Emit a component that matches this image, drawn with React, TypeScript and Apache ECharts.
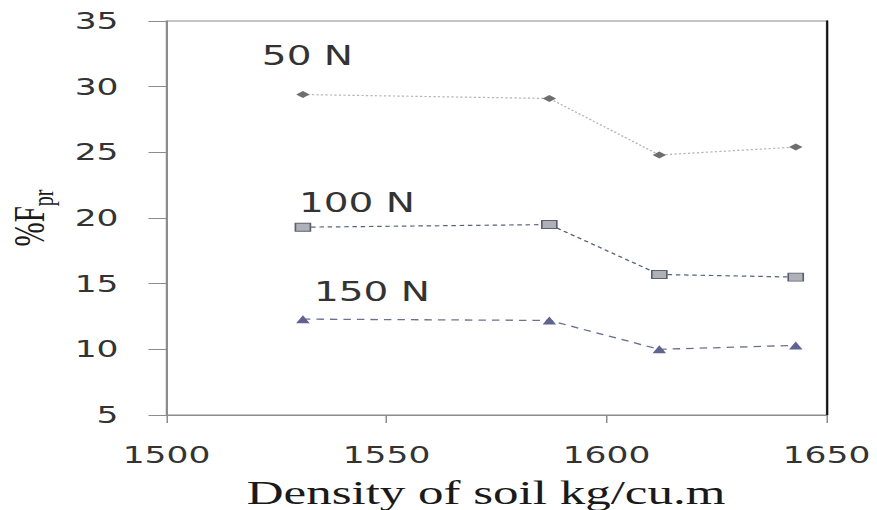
import React, { useEffect, useRef } from "react";
import * as echarts from "echarts";

// Data
const densities = [1531, 1587, 1612, 1643];
const fpr50 = [29.4, 29.1, 24.8, 25.4];
const fpr100 = [19.3, 19.5, 15.7, 15.5];
const fpr150 = [12.3, 12.2, 10.0, 10.3];
const seriesNames = ["50 N", "100 N", "150 N"];
const xRange = [1500, 1650];
const yRange = [5, 35];

const STRETCH = 1.5;
const W = 877;
const H = 510;

export default function App() {
  const ref = useRef<HTMLDivElement>(null);
  useEffect(() => {
    if (!ref.current) return;
    const chart = echarts.init(ref.current, null, { renderer: "svg" });
    const pts = (ys: number[]) => densities.map((x, i) => [x, ys[i]]);
    const lbl = (name: string, off: number[]) => ({
      show: true,
      position: "top",
      offset: off,
      fontFamily: "DejaVu Sans",
      fontSize: 26,
      color: "#333",
      formatter: (p: any) => (p.dataIndex === 0 ? name : ""),
    });
    chart.setOption({
      animation: false,
      backgroundColor: "#fff",
      grid: {
        left: 111,
        right: W / STRETCH - 550.7,
        top: 21,
        bottom: 95,
        containLabel: false,
        outerBoundsMode: "none",
        show: true,
        borderColor: "#8c8c8c",
        borderWidth: 1,
      },
      xAxis: {
        type: "value",
        min: xRange[0],
        max: xRange[1],
        interval: 50,
        name: "Density of soil kg/cu.m",
        nameLocation: "middle",
        nameGap: 60,
        nameTextStyle: {
          fontFamily: "Liberation Serif",
          fontSize: 34,
          color: "#1a1a1a",
          padding: [0, 14, 0, 0],
        },
        axisLine: { show: true, onZero: false, lineStyle: { color: "#8c8c8c", width: 1 } },
        axisTick: { show: true, length: 8, lineStyle: { color: "#8c8c8c" } },
        axisLabel: {
          fontFamily: "DejaVu Sans",
          fontSize: 23,
          color: "#333",
          margin: 29,
          formatter: (v: number) => String(v),
        },
        splitLine: { show: false },
      },
      yAxis: [
        {
          type: "value",
          min: yRange[0],
          max: yRange[1],
          interval: 5,
          name: "{a|%F}{b|pr}",
          nameLocation: "middle",
          nameGap: 44,
          nameTextStyle: {
            rich: {
              a: {
                fontFamily: "Liberation Serif",
                fontSize: 29,
                lineHeight: 34,
                verticalAlign: "top",
                color: "#1a1a1a",
              },
              b: {
                fontFamily: "Liberation Serif",
                fontSize: 20,
                lineHeight: 20,
                verticalAlign: "bottom",
                color: "#1a1a1a",
              },
            },
          },
          axisLine: { show: true, lineStyle: { color: "#8c8c8c", width: 1 } },
          axisTick: { show: true, length: 12, lineStyle: { color: "#8c8c8c" } },
          axisLabel: {
            fontFamily: "DejaVu Sans",
            fontSize: 23,
            color: "#333",
            margin: 32,
            formatter: (v: number) => String(v),
          },
          splitLine: { show: false },
        },
        {
          type: "value",
          position: "right",
          min: yRange[0],
          max: yRange[1],
          interval: 5,
          axisLine: { show: true, lineStyle: { color: "#111", width: 1.4 } },
          axisTick: { show: false },
          axisLabel: { show: false },
          splitLine: { show: false },
        },
      ],
      series: [
        {
          name: seriesNames[0],
          type: "line",
          data: pts(fpr50),
          symbol: "diamond",
          symbolSize: [9, 7],
          itemStyle: { color: "#6e6e6e" },
          lineStyle: { color: "#b4b4b4", width: 1.2, type: [1.5, 1.5] },
          label: lbl(seriesNames[0], [3, -17]),
        },
        {
          name: seriesNames[1],
          type: "line",
          data: pts(fpr100),
          symbol: "rect",
          symbolSize: [10, 8],
          itemStyle: { color: "#b0b0b8", borderColor: "#5c5f70", borderWidth: 1 },
          lineStyle: { color: "#5c6278", width: 1.2, type: [3, 2.5] },
          label: lbl(seriesNames[1], [36, -2]),
        },
        {
          name: seriesNames[2],
          type: "line",
          data: pts(fpr150),
          symbol: "triangle",
          symbolSize: [9, 8],
          itemStyle: { color: "#5e6390" },
          lineStyle: { color: "#6b7092", width: 1.3, type: [5, 4] },
          label: lbl(seriesNames[2], [46, -5]),
        },
      ],
    });
    return () => chart.dispose();
  }, []);
  return (
    <div
      ref={ref}
      style={{
        position: "absolute",
        left: 0,
        top: 0,
        width: W / STRETCH,
        height: H,
        transform: `scaleX(${STRETCH})`,
        transformOrigin: "0 0",
      }}
    />
  );
}
